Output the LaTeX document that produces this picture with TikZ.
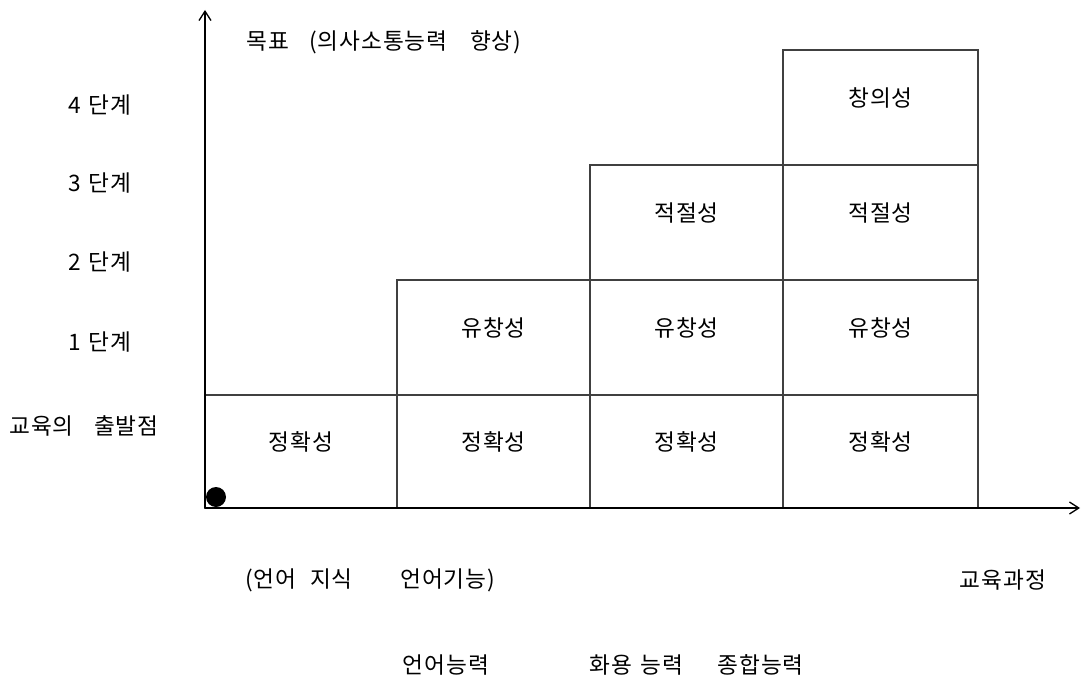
\documentclass[tikz,border=0pt]{standalone}
\usepackage{fontspec}
\setmainfont{Noto Sans CJK KR}[LetterSpace=4]
\usetikzlibrary{arrows.meta,fit}
\definecolor{linegray}{HTML}{404040}
\tikzset{
  cell/.style={draw=linegray, line width=1.5pt, inner sep=0pt, font=\fontsize{17}{19}\selectfont},
  lbl/.style={inner sep=0pt, font=\fontsize{17}{19}\selectfont},
  axis/.style={draw=black, line width=1.2pt, -{Straight Barb[length=7pt,width=9pt,line width=1pt]}}
}
\begin{document}
\begin{tikzpicture}[x=0.75pt,y=-0.75pt]
\useasboundingbox (0,0) rectangle (1081,681);
% column 1
\node[cell, fit={(205,395)(397,508)}] (c11) {정확성};
% column 2
\node[cell, fit={(397,395)(590,508)}] (c21) {정확성};
\node[cell, fit={(397,280)(590,395)}] (c22) {유창성};
% column 3
\node[cell, fit={(590,395)(783,508)}] (c31) {정확성};
\node[cell, fit={(590,280)(783,395)}] (c32) {유창성};
\node[cell, fit={(590,165)(783,280)}] (c33) {적절성};
% column 4
\node[cell, fit={(783,395)(978,508)}] (c41) {정확성};
\node[cell, fit={(783,280)(978,395)}] (c42) {유창성};
\node[cell, fit={(783,165)(978,280)}] (c43) {적절성};
\node[cell, fit={(783,50)(978,165)}] (c44) {창의성};
% axes
\coordinate (O) at (205,508);
\coordinate (ytop) at (205,10);
\coordinate (xend) at (1080,508);
\draw[axis] (O) -- (ytop);
\draw[axis] (O) -- (xend);
\node[circle, fill=black, minimum size=15pt, inner sep=0pt] (dot) at (216,497) {};
% labels
\node[lbl, anchor=west] (goal) at (246,42) {목표\hspace{0.9em}(의사소통능력\hspace{1.0em}향상)};
\node[lbl] (s4) at (100,105) {4\hspace{0.35em}단계};
\node[lbl] (s3) at (100,183) {3\hspace{0.35em}단계};
\node[lbl] (s2) at (100,262) {2\hspace{0.35em}단계};
\node[lbl] (s1) at (100,342) {1\hspace{0.35em}단계};
\node[lbl] (start) at (84,426) {교육의\hspace{0.9em}출발점};
\node[lbl, anchor=west] (know) at (245,580) {(언어\hspace{0.6em}지식\hspace{2.1em}언어기능)};
\node[lbl] (curr) at (1003,580) {교육과정};
\node[lbl] (lang) at (446,665) {언어능력};
\node[lbl, anchor=west] (prag) at (589,665) {화용\hspace{0.4em}능력\hspace{1.5em}종합능력};
\end{tikzpicture}
\end{document}
